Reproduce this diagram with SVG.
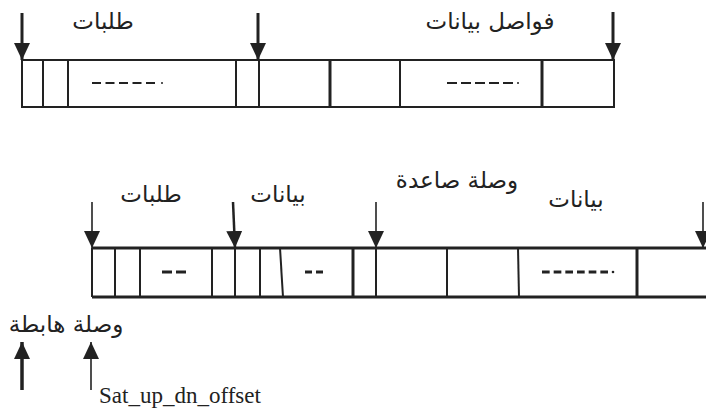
<svg xmlns="http://www.w3.org/2000/svg" width="706" height="411" viewBox="0 0 706 411">
  <defs>
    <marker id="head" viewBox="0 0 17 16" refX="17" refY="8" markerWidth="17" markerHeight="16" markerUnits="userSpaceOnUse" orient="auto">
      <path d="M0,0 L17,8 L0,16 Z" fill="#222"/>
    </marker>
    <style>
      .frame { fill: none; stroke: #222; stroke-width: 2; }
      .cell { stroke: #222; stroke-width: 2; }
      .thick { stroke: #222; stroke-width: 3; }
      .dot { fill: #222; }
      .arr { stroke: #222; stroke-width: 2.5; fill: none; }
      .arrT { stroke: #222; stroke-width: 1.6; fill: none; }
      .ar { font-family: "DejaVu Sans", "Noto Sans", sans-serif; font-size: 23px; fill: #222; }
      .lat { font-family: "Liberation Serif", serif; font-size: 23px; fill: #222; }
    </style>
  </defs>

  <!-- upper frame sequence -->
  <g id="frame-top">
    <rect class="frame" x="22" y="60" width="592" height="47"/>
    <line class="cell" x1="43" y1="60" x2="43" y2="107"/>
    <line class="cell" x1="68" y1="60" x2="68" y2="107"/>
    <line class="cell" x1="236" y1="60" x2="236" y2="107"/>
    <line class="cell" x1="259" y1="60" x2="259" y2="107"/>
    <line class="thick" x1="330" y1="60" x2="330" y2="107"/>
    <line class="cell" x1="400" y1="60" x2="400" y2="107"/>
    <line class="thick" x1="542" y1="60" x2="542" y2="107"/>
    <line x1="92" y1="83" x2="155" y2="83" stroke="#222" stroke-width="2" stroke-dasharray="9 4.5"/>
    <circle class="dot" cx="162" cy="83" r="1"/>
    <line x1="447" y1="83" x2="513" y2="83" stroke="#222" stroke-width="2" stroke-dasharray="10 4"/>
    <circle class="dot" cx="518" cy="83" r="1"/>
    <text class="ar" x="103" y="29" text-anchor="middle">طلبات</text>
    <text class="ar" x="490" y="29" text-anchor="middle">فواصل بيانات</text>
  </g>

  <!-- lower frame sequence -->
  <g id="frame-bottom">
    <line class="frame" x1="92" y1="248" x2="706" y2="248" style="stroke-width:3"/>
    <line class="frame" x1="92" y1="297" x2="706" y2="297" style="stroke-width:3"/>
    <line class="cell" x1="92" y1="248" x2="92" y2="297"/>
    <line class="cell" x1="115" y1="248" x2="115" y2="297"/>
    <line class="cell" x1="140" y1="248" x2="140" y2="297"/>
    <line class="cell" x1="212" y1="248" x2="212" y2="297"/>
    <line class="cell" x1="235" y1="248" x2="235" y2="297"/>
    <line class="cell" x1="260" y1="248" x2="260" y2="297"/>
    <line class="cell" x1="280" y1="248" x2="283" y2="297"/>
    <line class="thick" x1="353" y1="248" x2="353" y2="297"/>
    <line class="cell" x1="376" y1="248" x2="376" y2="297"/>
    <line class="cell" x1="447" y1="248" x2="447" y2="297"/>
    <line class="cell" x1="518" y1="248" x2="519" y2="297"/>
    <line class="thick" x1="637" y1="248" x2="637" y2="297"/>
    <line x1="162" y1="272" x2="186" y2="272" stroke="#222" stroke-width="3" stroke-dasharray="10 4"/>
    <line x1="305" y1="272" x2="323" y2="272" stroke="#222" stroke-width="3" stroke-dasharray="7 4"/>
    <line x1="542" y1="272" x2="608" y2="272" stroke="#222" stroke-width="3" stroke-dasharray="7.67 4"/>
    <circle class="dot" cx="613" cy="272" r="1.3"/>
    <text class="ar" x="151" y="202" text-anchor="middle">طلبات</text>
    <text class="ar" x="278" y="202" text-anchor="middle">بيانات</text>
    <text class="ar" x="457" y="188" text-anchor="middle">وصلة صاعدة</text>
    <text class="ar" x="576" y="207" text-anchor="middle">بيانات</text>
  </g>

  <!-- labels under the lower frame -->
  <g id="offset-labels">
    <text class="ar" x="66" y="332" text-anchor="middle">وصلة هابطة</text>
    <text class="lat" x="99" y="403">Sat_up_dn_offset</text>
  </g>

  <g id="connectors">
    <!-- upper row markers -->
    <line class="arr" x1="22" y1="13" x2="22" y2="60" marker-end="url(#head)" style="stroke-width:3"/>
    <line class="arr" x1="258" y1="13" x2="258" y2="60" marker-end="url(#head)" style="stroke-width:3"/>
    <line class="arr" x1="613" y1="12" x2="613" y2="60" marker-end="url(#head)" style="stroke-width:3"/>
    <!-- lower row markers -->
    <line class="arrT" x1="92" y1="202" x2="92" y2="248" marker-end="url(#head)"/>
    <line class="arr" x1="233" y1="202" x2="235" y2="248" marker-end="url(#head)"/>
    <line class="arrT" x1="376" y1="202" x2="376" y2="248" marker-end="url(#head)"/>
    <line class="arrT" x1="703" y1="202" x2="703" y2="248" marker-end="url(#head)"/>
    <!-- upward markers -->
    <line class="arr" x1="22" y1="390" x2="22" y2="342" marker-end="url(#head)" style="stroke-width:3.5"/>
    <line class="arrT" x1="91" y1="390" x2="91" y2="342" marker-end="url(#head)"/>
  </g>
</svg>
